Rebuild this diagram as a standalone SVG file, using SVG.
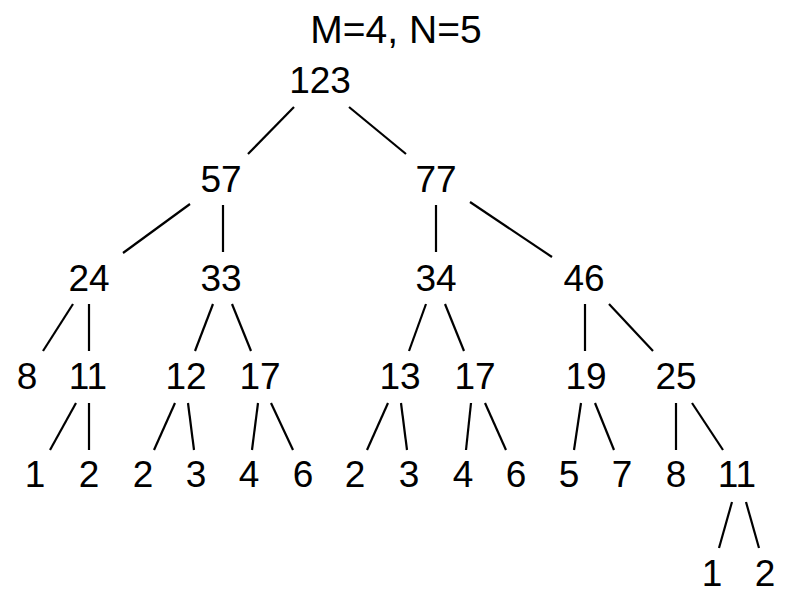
<svg xmlns="http://www.w3.org/2000/svg" width="793" height="605" viewBox="0 0 793 605">
<style>
text{font-family:"Liberation Sans",Arial,sans-serif;font-size:37px;fill:#000;text-anchor:middle}
.t{font-size:39px}
line{stroke:#000;stroke-width:2.2}
</style>
<rect width="793" height="605" fill="#fff"/>
<text class="t" x="396" y="43">M=4, N=5</text>
<g id="connectors">
<line x1="294" y1="107" x2="248" y2="154"/>
<line x1="349" y1="107" x2="406" y2="154"/>
<line x1="190" y1="204" x2="123" y2="253"/>
<line x1="223" y1="205" x2="223" y2="252"/>
<line x1="436" y1="205" x2="436" y2="252"/>
<line x1="470" y1="202" x2="552" y2="257"/>
<line x1="73" y1="304" x2="43" y2="351"/>
<line x1="89" y1="304" x2="89" y2="351"/>
<line x1="213" y1="304" x2="195" y2="351"/>
<line x1="232" y1="304" x2="251" y2="351"/>
<line x1="426" y1="304" x2="409" y2="351"/>
<line x1="445" y1="304" x2="464" y2="351"/>
<line x1="585" y1="304" x2="585" y2="351"/>
<line x1="609" y1="304" x2="653" y2="351"/>
<line x1="76" y1="403" x2="50" y2="450"/>
<line x1="89" y1="403" x2="89" y2="450"/>
<line x1="175" y1="403" x2="154" y2="450"/>
<line x1="188" y1="403" x2="194" y2="450"/>
<line x1="258" y1="403" x2="252" y2="450"/>
<line x1="271" y1="403" x2="293" y2="450"/>
<line x1="388" y1="403" x2="367" y2="450"/>
<line x1="401" y1="403" x2="407" y2="450"/>
<line x1="471" y1="403" x2="466" y2="450"/>
<line x1="485" y1="403" x2="506" y2="450"/>
<line x1="581" y1="403" x2="574" y2="450"/>
<line x1="595" y1="403" x2="614" y2="450"/>
<line x1="676" y1="403" x2="676" y2="450"/>
<line x1="692" y1="403" x2="723" y2="450"/>
<line x1="732" y1="502" x2="719" y2="548"/>
<line x1="746" y1="502" x2="759" y2="548"/>
</g>
<g id="n123"><text x="320" y="93">123</text></g>
<g id="n57"><text x="221" y="192">57</text></g>
<g id="n77"><text x="436" y="192">77</text></g>
<g id="n24"><text x="89" y="291">24</text></g>
<g id="n33"><text x="221" y="291">33</text></g>
<g id="n34"><text x="436" y="291">34</text></g>
<g id="n46"><text x="584" y="291">46</text></g>
<g id="n8a"><text x="27" y="389">8</text></g>
<g id="n11a"><text x="88" y="389">11</text></g>
<g id="n12"><text x="186" y="389">12</text></g>
<g id="n17a"><text x="260" y="389">17</text></g>
<g id="n13"><text x="400" y="389">13</text></g>
<g id="n17b"><text x="475" y="389">17</text></g>
<g id="n19"><text x="586" y="389">19</text></g>
<g id="n25"><text x="676" y="389">25</text></g>
<g id="n1a"><text x="35" y="487">1</text></g>
<g id="n2a"><text x="89" y="487">2</text></g>
<g id="n2b"><text x="143" y="487">2</text></g>
<g id="n3a"><text x="196" y="487">3</text></g>
<g id="n4a"><text x="249" y="487">4</text></g>
<g id="n6a"><text x="303" y="487">6</text></g>
<g id="n2c"><text x="355" y="487">2</text></g>
<g id="n3b"><text x="409" y="487">3</text></g>
<g id="n4b"><text x="463" y="487">4</text></g>
<g id="n6b"><text x="516" y="487">6</text></g>
<g id="n5"><text x="569" y="487">5</text></g>
<g id="n7"><text x="622" y="487">7</text></g>
<g id="n8b"><text x="676" y="487">8</text></g>
<g id="n11b"><text x="737" y="487">11</text></g>
<g id="n1b"><text x="712" y="586">1</text></g>
<g id="n2d"><text x="765" y="586">2</text></g>
</svg>
